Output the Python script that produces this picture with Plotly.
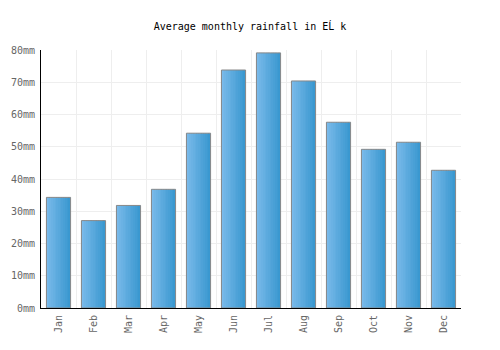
import plotly.graph_objects as go

months = ["Jan", "Feb", "Mar", "Apr", "May", "Jun", "Jul", "Aug", "Sep", "Oct", "Nov", "Dec"]
rainfall = [34.3, 27.1, 31.8, 36.8, 54.2, 73.8, 79.1, 70.4, 57.6, 49.2, 51.4, 42.7]
y_ticks = [0, 10, 20, 30, 40, 50, 60, 70, 80]

x = list(range(len(months)))
bar_w = 0.69
n_slices = 14
c0 = (122, 186, 234)
c1 = (58, 152, 208)

fig = go.Figure()
sw = bar_w / n_slices
for i in range(n_slices):
    t = i / (n_slices - 1)
    col = tuple(round(c0[k] + (c1[k] - c0[k]) * t) for k in range(3))
    fig.add_trace(go.Bar(
        x=x, y=rainfall, width=[sw * 1.02] * len(x), offset=-bar_w / 2 + i * sw,
        marker=dict(color="rgb(%d,%d,%d)" % col, line=dict(width=0)),
        hoverinfo="skip", showlegend=False))
fig.add_trace(go.Bar(
    x=x, y=rainfall, width=[bar_w] * len(x), offset=-bar_w / 2,
    marker=dict(color="rgba(0,0,0,0)", line=dict(color="#888888", width=1)),
    showlegend=False))

font = "DejaVu Sans Mono"
fig.update_layout(
    width=500, height=350,
    margin=dict(l=41, r=39, t=50, b=42),
    paper_bgcolor="white", plot_bgcolor="white",
    barmode="overlay",
    title=dict(text="Average monthly rainfall in EĹ k", x=0.5, xanchor="center",
               y=0.925, yanchor="middle",
               font=dict(family=font, size=10, color="#000000")),
    xaxis=dict(range=[-0.5, 11.5], tickmode="array", tickvals=x, ticktext=months,
               tickangle=-90, showgrid=False, zeroline=False,
               showline=True, linecolor="#000000", linewidth=1, ticks="",
               ticklabelstandoff=2,
               tickfont=dict(family=font, size=10, color="#666666"),
               minor=dict(tick0=0.5, dtick=1, showgrid=True, gridcolor="#eeeeee", gridwidth=1)),
    yaxis=dict(range=[0, 80], tickmode="array", tickvals=y_ticks,
               ticktext=[f"{v}mm" for v in y_ticks],
               showgrid=True, gridcolor="#eeeeee", gridwidth=1, zeroline=False,
               showline=True, linecolor="#000000", linewidth=1, ticks="",
               ticklabelstandoff=3,
               tickfont=dict(family=font, size=10, color="#666666")),
)
fig.write_html("out.html")
